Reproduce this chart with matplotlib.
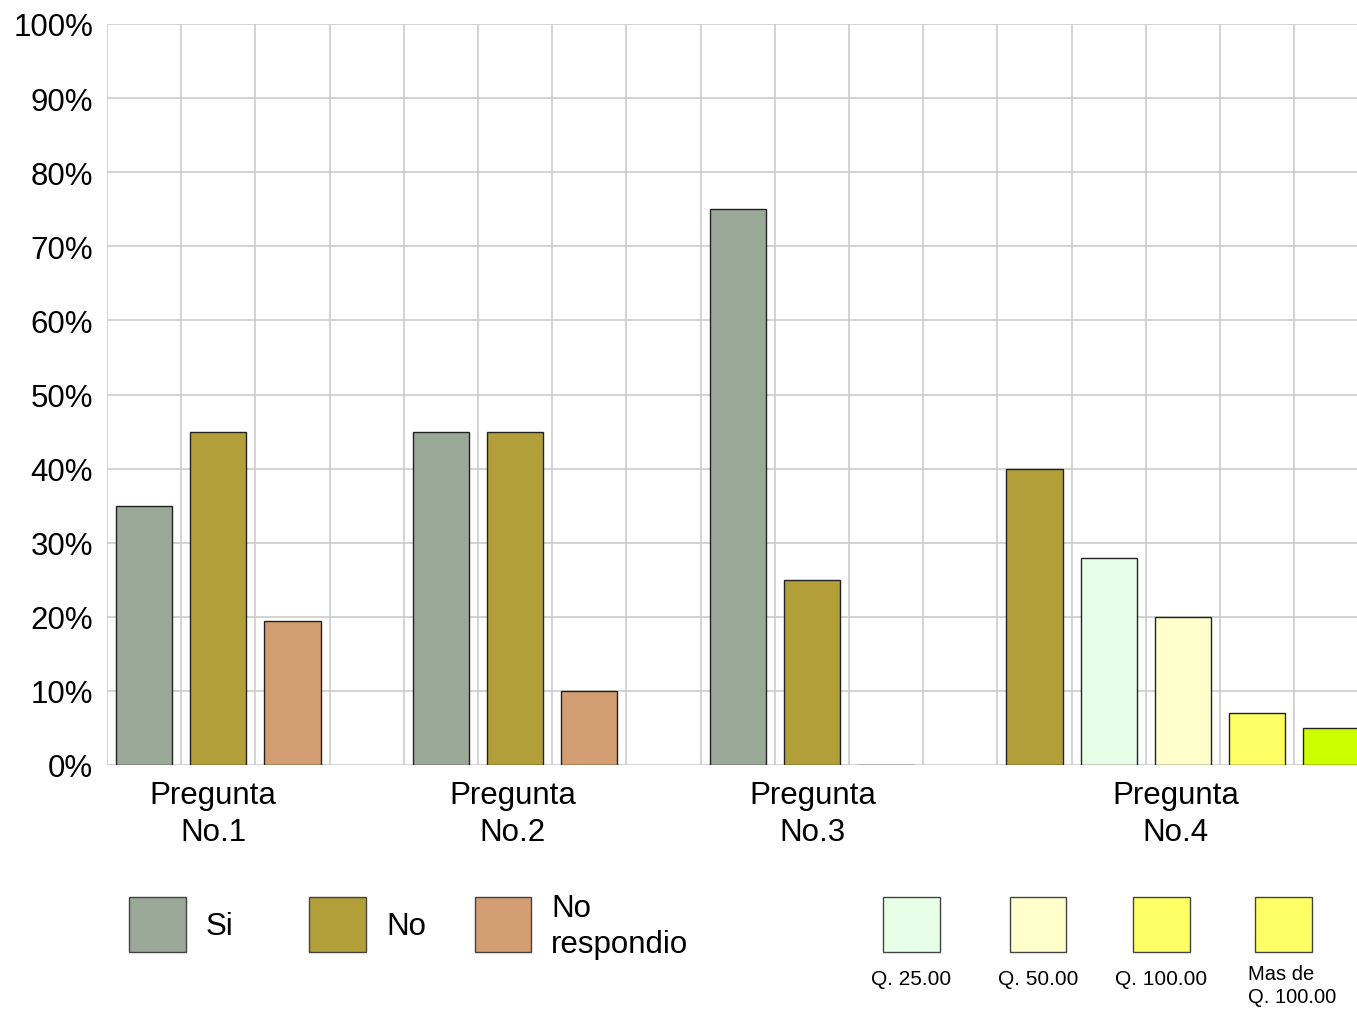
import matplotlib.pyplot as plt
from matplotlib.patches import Rectangle

plt.rcParams['font.family'] = ['Liberation Sans', 'DejaVu Sans']

# ---- data ----
groups = ["Pregunta\nNo.1", "Pregunta\nNo.2", "Pregunta\nNo.3", "Pregunta\nNo.4"]
group_centers = [1.43, 5.47, 9.51, 14.4]

bar_slots = [0, 1, 2, 4, 5, 6, 8, 9, 10, 12, 13, 14, 15, 16]
bar_values = [35, 45, 19.5, 45, 45, 10, 75, 25, 0, 40, 28, 20, 7, 5]
bar_series = ["Si", "No", "NR", "Si", "No", "NR", "Si", "No", "NR",
              "No", "Q25", "Q50", "Q100", "Mas"]

colors = {
    "Si": "#9aa998",
    "No": "#b29f3a",
    "NR": "#d39e72",
    "Q25": "#e6ffe6",
    "Q50": "#ffffcc",
    "Q100": "#ffff66",
    "Mas": "#ccff00",
}

legend_main = [("Si", "Si"), ("No", "No"), ("NR", "No\nrespondio")]
legend_q = [("Q25", "Q. 25.00"), ("Q50", "Q. 50.00"), ("Q100", "Q. 100.00"),
            ("Q100", "Mas de\nQ. 100.00")]

W, H = 1357, 1012
fig = plt.figure(figsize=(W / 100, H / 100), dpi=100)

# axes: left 107px, top 25px, bottom 766px, runs off the right edge
ax = fig.add_axes([107 / W, 1 - 766 / H, 1 - 107 / W, (766 - 25) / H])
slot = 74.2
ax.set_xlim(0, (W - 107) / slot)
ax.set_ylim(0, 100)

for s in ax.spines.values():
    s.set_visible(False)
ax.set_xticks(range(0, 17))
ax.set_yticks(range(0, 101, 10))
ax.set_yticklabels([f"{v}%" for v in range(0, 101, 10)], fontsize=22.5)
ax.tick_params(axis="x", length=0, labelbottom=False)
ax.tick_params(axis="y", length=0, pad=10)
ax.grid(True, color="#c8c8c8", linewidth=1.1)
ax.set_axisbelow(True)

ax.bar([s + 0.5 for s in bar_slots], bar_values, width=0.755,
       color=[colors[k] for k in bar_series], edgecolor="#222222",
       linewidth=1.0, zorder=3, clip_on=True)

for x, lab in zip(group_centers, groups):
    ax.text(x, -2.0, lab, ha="center", va="top", fontsize=22.5,
            linespacing=1.3, transform=ax.transData)

# ---- legends drawn in pixel space ----
def px_box(x0, y0, x1, y1, color):
    fig.add_artist(Rectangle((x0 / W, 1 - y1 / H), (x1 - x0) / W, (y1 - y0) / H,
                             facecolor=color, edgecolor="#444444",
                             linewidth=1.0, transform=fig.transFigure))

main_x = [(129, 186), (309, 366), (475, 531)]
for (x0, x1), (key, lab) in zip(main_x, legend_main):
    px_box(x0, 898, x1, 953, colors[key])
    fig.text((x1 + 20) / W, 1 - 927 / H, lab, ha="left", va="center",
             fontsize=22.5, linespacing=1.3)

q_x = [(883, 940), (1010, 1066), (1133, 1190), (1255, 1312)]
for i, ((x0, x1), (key, lab)) in enumerate(zip(q_x, legend_q)):
    px_box(x0, 898, x1, 953, colors[key])
    if "\n" in lab:
        fig.text(1248 / W, 1 - 965 / H, lab, ha="left", va="top",
                 fontsize=14.5, linespacing=1.3)
    else:
        fig.text((x0 + x1) / 2 / W, 1 - 980 / H, lab, ha="center",
                 va="center", fontsize=15)

fig.savefig("out.png", dpi=100)
